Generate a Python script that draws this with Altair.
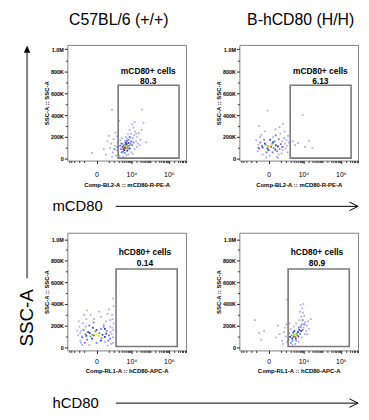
import altair as alt
import pandas as pd

FONT = "Liberation Sans"

col_titles = ["C57BL/6 (+/+)", "B-hCD80 (H/H)"]
row_markers = ["mCD80", "hCD80"]
side_title = "SSC-A"
x_titles = ["Comp-BL2-A :: mCD80-R-PE-A", "Comp-RL1-A :: hCD80-APC-A"]
y_title = "SSC-A :: SSC-A"
gate_names = ["mCD80+ cells", "hCD80+ cells"]
gate_pcts = [["80.3", "6.13"], ["0.14", "80.9"]]

x_major = [0, 10000, 1000000]
x_minor = [-4000, -3000, -2000, -1000, -500, 500,
           1000, 2000, 3000, 4000, 5000, 6000, 7000, 8000, 9000,
           20000, 30000, 40000, 50000, 60000, 70000, 80000, 90000,
           100000, 200000, 300000, 400000, 500000, 600000, 700000, 800000, 900000,
           2000000, 3000000, 4000000, 5000000, 6000000, 7000000, 8000000]
y_major = [0, 200, 400, 600, 800, 1000]
y_minor = [100, 300, 500, 700, 900]

# per row (mCD80 row, hCD80 row)
gate_x = [[1850, 3500000], [1400, 2800000]]
gate_y = [[7, 672], [7, 725]]
label_x = [80000, 53000]
label_y = [[806, 710], [877, 780]]
y_domains = [[-15, 1040], [-30, 1060]]
panel_h = [117, 119]

palette = ["#a8a8f4", "#6c6cf0", "#2a2ad6", "#34b84a", "#e2d82a", "#e83a20"]

# (fluorescence, SSC in K, density level)
TL_pts = [
    (1500, 80, 0), (1200, 120, 0), (900, 60, 0), (1700, 150, 0), (600, 100, 0), (300, 40, 0),
    (1000, 180, 0), (1400, 30, 0), (700, 140, 0), (200, 90, 0), (-100, 55, 0), (1600, 205, 0),
    (400, 160, 0), (800, 20, 0), (1300, 240, 0), (500, 210, 0), (800, 450, 0),
    (12000, 190, 0), (14000, 215, 0), (9500, 230, 0), (16000, 250, 0), (20000, 200, 0),
    (8000, 265, 0), (13000, 285, 0), (6500, 225, 0), (5000, 200, 0), (3000, 190, 0),
    (2500, 170, 0), (18000, 160, 0), (22000, 140, 0), (25000, 235, 0), (30000, 175, 0),
    (11000, 315, 0), (15000, 335, 0), (35000, 265, 0), (9000, 195, 0), (7000, 40, 0),
    (10000, 60, 0), (15000, 90, 0), (20000, 110, 0), (28000, 125, 0), (2200, 30, 0),
    (3500, 20, 0), (5500, 35, 0), (2000, 10, 0), (38000, 450, 0), (60000, 150, 0),
    (45000, 330, 0), (2100, 350, 0), (4500, 170, 0), (6000, 185, 0), (8500, 150, 0),
    (2600, 140, 0), (3200, 60, 0), (12000, 45, 0), (18000, 230, 0),
    (1100, 90, 1), (1650, 110, 1),
    (2700, 90, 1), (3000, 140, 1), (7500, 120, 1), (9000, 135, 1), (2400, 120, 1),
    (3500, 70, 1), (5800, 165, 1), (7000, 175, 1), (10000, 160, 1), (11000, 125, 1),
    (2900, 60, 1), (4300, 55, 1), (13000, 150, 1), (8000, 200, 1), (6500, 95, 1),
    (3300, 110, 2), (4200, 80, 2), (5500, 130, 2), (6800, 145, 2), (8000, 95, 2),
    (4800, 150, 2), (6000, 75, 2), (3700, 90, 2), (5200, 140, 2),
    (5000, 95, 3), (3700, 125, 3), (6100, 110, 3), (4100, 120, 3), (4600, 130, 3),
    (4500, 115, 4), (3800, 140, 4), (5200, 112, 4),
    (4000, 100, 5), (4600, 105, 5),
]

TR_pts = [
    (100, 200, 0), (-200, 220, 0), (450, 230, 0), (600, 160, 0), (700, 110, 0), (-350, 130, 0),
    (-400, 70, 0), (20, 30, 0), (250, 20, 0), (-150, 40, 0), (550, 50, 0), (800, 190, 0),
    (-80, 250, 0), (180, 270, 0), (-250, 200, 0), (350, 40, 0), (650, 80, 0), (900, 140, 0),
    (1200, 120, 0), (1500, 150, 0), (1100, 170, 0), (1400, 210, 0), (1000, 95, 0),
    (-20, 440, 0), (700, 320, 0), (-300, 300, 0), (400, 290, 0), (-500, 170, 0),
    (300, 10, 0), (-50, 15, 0), (1300, 60, 0), (850, 250, 0),
    (2600, 160, 0), (5000, 145, 0), (12000, 110, 0), (30000, 100, 0), (9000, 400, 0),
    (3500, 125, 0), (20000, 165, 0),
    (-250, 150, 1), (400, 90, 1), (150, 160, 1), (-100, 175, 1), (250, 70, 1), (-300, 95, 1),
    (500, 135, 1), (350, 180, 1), (-40, 60, 1), (90, 60, 1), (600, 110, 1), (-180, 120, 1),
    (200, 215, 1), (-350, 100, 1),
    (200, 125, 2), (-150, 105, 2), (300, 115, 2), (0, 80, 2), (30, 175, 2), (-20, 95, 2),
    (180, 85, 2), (100, 150, 2), (-80, 140, 2),
    (-60, 130, 3), (120, 100, 3), (80, 140, 3), (-10, 115, 3),
    (0, 120, 4), (60, 125, 4),
    (50, 110, 5),
]

BL_pts = [
    (650, 140, 0), (-700, 100, 0), (800, 180, 0), (-800, 150, 0), (300, 240, 0), (-350, 260, 0),
    (100, 280, 0), (600, 250, 0), (-600, 220, 0), (900, 90, 0), (-900, 60, 0), (700, 30, 0),
    (-200, 20, 0), (400, 15, 0), (950, 160, 0), (980, 220, 0), (-1000, 190, 0), (50, 330, 0),
    (500, 350, 0), (-150, 300, 0), (800, 300, 0), (850, 260, 0), (1000, 380, 0), (950, 450, 0),
    (-500, 300, 0), (-1200, 110, 0), (900, 40, 0), (-650, 20, 0), (-1400, 150, 0),
    (-1100, 240, 0), (200, 210, 0), (-400, 190, 0), (400, 310, 0), (-800, 40, 0), (600, 190, 0),
    (-300, 340, 0), (750, 120, 0), (-900, 130, 0), (250, 50, 0), (-50, 260, 0),
    (350, 150, 1), (-400, 120, 1), (-300, 70, 1), (500, 110, 1), (-550, 160, 1), (200, 190, 1),
    (-200, 200, 1), (450, 60, 1), (-450, 40, 1), (0, 40, 1), (-60, 230, 1), (600, 80, 1),
    (-650, 90, 1), (100, 170, 1),
    (-250, 140, 2), (250, 95, 2), (0, 160, 2), (-100, 80, 2), (100, 60, 2), (250, 170, 2),
    (-80, 180, 2), (-180, 130, 2), (320, 125, 2), (150, 115, 2), (-350, 105, 2),
    (60, 130, 3), (-150, 100, 3), (120, 85, 3), (-20, 145, 3), (-90, 115, 3),
    (0, 120, 4), (40, 105, 4),
    (-50, 110, 5),
]

BR_pts = [
    (1000, 100, 0), (800, 140, 0), (600, 60, 0), (400, 120, 0), (200, 90, 0), (-100, 150, 0),
    (-200, 70, 0), (900, 180, 0), (300, 200, 0), (1200, 50, 0), (700, 30, 0), (1100, 210, 0),
    (-300, 130, 0), (1200, 440, 0), (-600, 250, 0),
    (10000, 180, 0), (12000, 230, 0), (7500, 280, 0), (9500, 320, 0), (11000, 290, 0),
    (6000, 250, 0), (4000, 220, 0), (3000, 190, 0), (15000, 200, 0), (14000, 150, 0),
    (2000, 170, 0), (3500, 30, 0), (5500, 50, 0), (8000, 90, 0), (12000, 120, 0),
    (8500, 360, 0), (7000, 390, 0), (10000, 400, 0), (25000, 260, 0), (18000, 240, 0),
    (16000, 120, 0), (2500, 20, 0), (20000, 170, 0), (6500, 330, 0), (1700, 220, 0),
    (7000, 190, 1), (8000, 210, 1), (5500, 180, 1), (4000, 60, 1), (2500, 60, 1),
    (1600, 130, 1), (9000, 250, 1), (6500, 120, 1), (1500, 70, 1), (2000, 40, 1),
    (11000, 210, 1), (9000, 160, 1),
    (5000, 140, 2), (3800, 80, 2), (2800, 135, 2), (6000, 160, 2), (1800, 95, 2),
    (3200, 150, 2), (2400, 80, 2), (5200, 100, 2), (7500, 150, 2),
    (2600, 90, 3), (4200, 125, 3), (2200, 110, 3), (3600, 95, 3), (4600, 110, 3),
    (3500, 115, 4), (4500, 95, 4), (2900, 120, 4),
    (3000, 100, 5),
]

panel_pts = [[TL_pts, TR_pts], [BL_pts, BR_pts]]

X_DOMAIN = [-4900, 8200000]


def panel(row, col):
    df = pd.DataFrame(panel_pts[row][col], columns=["fl", "ssc", "lvl"])
    df = df.sort_values("lvl", kind="stable")
    xs = alt.Scale(type="symlog", constant=140, domain=X_DOMAIN, nice=False)
    ys = alt.Scale(domain=y_domains[row], nice=False, zero=False)
    xaxis = alt.Axis(
        values=x_major,
        labelExpr="datum.value == 0 ? '0' : (datum.value == 10000 ? '10⁴' : '10⁶')",
        title=x_titles[row], titleFont=FONT, titleFontSize=6, titleFontWeight="bold",
        titlePadding=[4, 3.5][row], titleColor="#000",
        labelFont=FONT, labelFontSize=7, labelPadding=[7, 4][row], labelColor="#000",
        tickSize=3, tickColor="#222", domain=False, grid=False, orient="bottom",
        labelFlush=False, labelOverlap=False)
    yaxis = alt.Axis(
        values=y_major,
        labelExpr="datum.value == 0 ? '0' : (datum.value >= 1000 ? '1.0M' : datum.value + 'K')",
        title=y_title, titleFont=FONT, titleFontSize=6, titleFontWeight="bold",
        titlePadding=1, titleColor="#000",
        labelFont=FONT, labelFontSize=5.5, labelFontWeight="bold", labelPadding=1,
        labelColor="#000", tickSize=3, tickColor="#222", domain=False, grid=False,
        orient="left", labelFlush=False, labelOverlap=False)
    xminor = alt.Axis(values=x_minor, labels=False, tickSize=2, tickColor="#333",
                      domain=False, grid=False, title="", orient="bottom")
    yminor = alt.Axis(values=y_minor, labels=False, tickSize=2, tickColor="#333",
                      domain=False, grid=False, title="", orient="left")

    dots = alt.Chart(df).mark_square(size=3, opacity=1, strokeWidth=0).encode(
        x=alt.X("fl:Q", scale=xs, axis=xaxis),
        y=alt.Y("ssc:Q", scale=ys, axis=yaxis),
        color=alt.Color("lvl:O", scale=alt.Scale(domain=[0, 1, 2, 3, 4, 5], range=palette),
                        legend=None),
    )
    gdf = pd.DataFrame({
        "x1": [gate_x[row][0]], "x2": [gate_x[row][1]],
        "y1": [gate_y[row][0]], "y2": [gate_y[row][1]],
        "lx": [label_x[row]], "ly1": [label_y[row][0]], "ly2": [label_y[row][1]],
        "name": [gate_names[row]], "pct": [gate_pcts[row][col]],
    })
    gate = alt.Chart(gdf).mark_rect(fillOpacity=0, stroke="#7a7a7a", strokeWidth=1.6).encode(
        x=alt.X("x1:Q", scale=xs, axis=xminor), x2="x2:Q",
        y=alt.Y("y1:Q", scale=ys, axis=yminor), y2="y2:Q",
    )
    t1 = alt.Chart(gdf).mark_text(font=FONT, fontSize=8.5, fontWeight="bold",
                                  align="center", baseline="middle", color="#000").encode(
        x=alt.X("lx:Q", scale=xs, axis=None), y=alt.Y("ly1:Q", scale=ys, axis=None), text="name:N")
    t2 = alt.Chart(gdf).mark_text(font=FONT, fontSize=8.5, fontWeight="bold",
                                  align="center", baseline="middle", color="#000").encode(
        x=alt.X("lx:Q", scale=xs, axis=None), y=alt.Y("ly2:Q", scale=ys, axis=None), text="pct:N")
    return alt.layer(dots, gate, t1, t2).resolve_axis(x="independent", y="independent").properties(
        width=120, height=panel_h[row],
        view=alt.ViewBackground(stroke="#7f7f7f", strokeWidth=1))


dummy = pd.DataFrame({"t": [0]})


def blank(w, h):
    return alt.Chart(dummy).mark_point(opacity=0).encode(
        x=alt.value(0), y=alt.value(0)).properties(width=w, height=h)


def title_cell(i, cx):
    return alt.Chart(pd.DataFrame({"t": [col_titles[i]]})).mark_text(
        font=FONT, fontSize=16, align="center", baseline="middle", color="#000").encode(
        text="t:N", x=alt.value(cx), y=alt.value(9)).properties(width=120, height=33.7)


def marker_cell(i, h, yy):
    base = alt.Chart(pd.DataFrame({"t": [row_markers[i]]}))
    txt = base.mark_text(font=FONT, fontSize=15, align="left", baseline="middle",
                         color="#000").encode(text="t:N", x=alt.value(-15), y=alt.value(yy))
    line = base.mark_rule(color="#000", strokeWidth=1).encode(
        x=alt.value(49), x2=alt.value(294), y=alt.value(yy))
    head = base.mark_point(shape="M-2,-1L0,0L-2,1", filled=False, stroke="#000",
                           strokeWidth=1, size=74, opacity=1).encode(
        x=alt.value(294), y=alt.value(yy))
    return alt.layer(txt, line, head).properties(width=120, height=h)


def strip_cell():
    base = alt.Chart(pd.DataFrame({"t": [side_title]}))
    line = base.mark_rule(color="#808080", strokeWidth=2).encode(
        x=alt.value(15.3), y=alt.value(42), y2=alt.value(270))
    head = base.mark_point(shape="M0,-1L0.9,1L-0.9,1Z", filled=True, color="#000",
                           size=52, opacity=1).encode(x=alt.value(15.3), y=alt.value(38.3))
    txt = base.mark_text(font=FONT, fontSize=19, angle=270, align="center",
                         baseline="middle", color="#000").encode(
        text="t:N", x=alt.value(15.3), y=alt.value(310))
    return alt.layer(line, head, txt).properties(width=2, height=33.7)


cells = [
    strip_cell(), title_cell(0, 52), title_cell(1, 62),
    blank(2, 1), panel(0, 0), panel(0, 1),
    blank(2, 1), marker_cell(0, 73, 46.3), blank(120, 1),
    blank(2, 1), panel(1, 0), panel(1, 1),
    blank(2, 1), marker_cell(1, 61.3, 53.3), blank(120, 1),
]

chart = alt.concat(*cells, columns=3, spacing={"row": 0, "column": 54}, bounds="flush").properties(
    padding=0, background="white").configure_view(stroke="transparent")

chart.save("out.html", embed_options={"renderer": "svg", "actions": False})
